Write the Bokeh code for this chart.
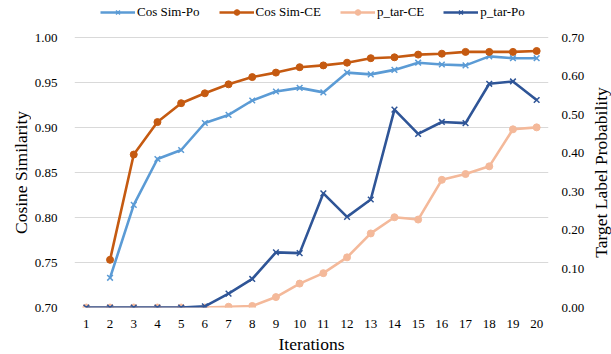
import math
from bokeh.plotting import figure
from bokeh.layouts import row
from bokeh.models import (Range1d, LinearAxis, FixedTicker, NumeralTickFormatter,
                          Legend, LegendItem, ColumnDataSource, Label)
from bokeh.embed import file_html
from bokeh.resources import INLINE

nan = float("nan")
iterations = list(range(1, 21))
cos_sim_po = [nan, 0.733, 0.814, 0.865, 0.875, 0.905, 0.914, 0.930, 0.940, 0.944,
              0.939, 0.961, 0.959, 0.964, 0.972, 0.970, 0.969, 0.979, 0.977, 0.977]
cos_sim_ce = [nan, 0.753, 0.870, 0.906, 0.927, 0.938, 0.948, 0.956, 0.961, 0.967,
              0.969, 0.972, 0.977, 0.978, 0.981, 0.982, 0.984, 0.984, 0.984, 0.985]
p_tar_ce = [0.0, 0.0, 0.0, 0.0, 0.0, 0.0, 0.002, 0.004, 0.027, 0.062,
            0.089, 0.130, 0.192, 0.234, 0.228, 0.331, 0.346, 0.366, 0.462, 0.467]
p_tar_po = [0.0, 0.0, 0.0, 0.0, 0.0, 0.003, 0.036, 0.074, 0.143, 0.141,
            0.296, 0.235, 0.280, 0.513, 0.450, 0.481, 0.478, 0.580, 0.586, 0.538]
left_ticks = [0.70, 0.75, 0.80, 0.85, 0.90, 0.95, 1.00]
right_ticks = [0.0, 0.1, 0.2, 0.3, 0.4, 0.5, 0.6, 0.7]
left_title = "Cosine Similarity"
right_title = "Target Label Probability"
x_title = "Iterations"

FONT = "Liberation Serif"
TXT = "#000000"

# main frame reaches up to the top edge so the legend can sit above the 1.00 gridline
FRAME_H = 307
GRID_TOP = 37
GRID_H = FRAME_H - GRID_TOP
BOTTOM = 47
left_top = 1.00 + GRID_TOP * (0.30 / GRID_H)
right_top = 0.70 + GRID_TOP * (0.70 / GRID_H)

p = figure(frame_width=474, frame_height=FRAME_H, output_backend="svg", toolbar_location=None,
           x_range=Range1d(0.5, 20.5), y_range=Range1d(0.70, left_top),
           min_border_left=41, min_border_right=40, min_border_top=0, min_border_bottom=BOTTOM)
p.extra_y_ranges = {"prob": Range1d(0.0, right_top)}
p.outline_line_color = None

src = ColumnDataSource(dict(x=iterations, cpo=cos_sim_po, cce=cos_sim_ce, pce=p_tar_ce, ppo=p_tar_po))

c1 = "#5B9BD5"
c2 = "#C55A11"
c3 = "#F4B99A"
c4 = "#2F5597"

l1 = p.line("x", "cpo", source=src, line_color=c1, line_width=2.6)
s1 = p.scatter("x", "cpo", source=src, marker="x", size=8, line_color=c1, line_width=1.5)
l2 = p.line("x", "cce", source=src, line_color=c2, line_width=2.6)
s2 = p.scatter("x", "cce", source=src, marker="circle", size=7, fill_color=c2, line_color=c2)
l3 = p.line("x", "pce", source=src, line_color=c3, line_width=2.6, y_range_name="prob")
s3 = p.scatter("x", "pce", source=src, marker="circle", size=7, fill_color=c3, line_color=c3, y_range_name="prob")
l4 = p.line("x", "ppo", source=src, line_color=c4, line_width=2.6, y_range_name="prob")
s4 = p.scatter("x", "ppo", source=src, marker="x", size=8, line_color=c4, line_width=1.5, y_range_name="prob")

p.xaxis.ticker = FixedTicker(ticks=iterations)
p.xaxis.axis_label = x_title
p.yaxis.ticker = FixedTicker(ticks=left_ticks)
p.yaxis.formatter = NumeralTickFormatter(format="0.00")

ra = LinearAxis(y_range_name="prob", ticker=FixedTicker(ticks=right_ticks),
                formatter=NumeralTickFormatter(format="0.00"))
p.add_layout(ra, "right")

for ax in [p.xaxis[0], p.yaxis[0], ra]:
    ax.axis_line_color = None
    ax.major_tick_line_color = None
    ax.minor_tick_line_color = None
    ax.major_label_text_font = FONT
    ax.major_label_text_font_size = "13px"
    ax.major_label_text_color = TXT
    ax.axis_label_text_font = FONT
    ax.axis_label_text_font_size = "17.5px"
    ax.axis_label_text_font_style = "normal"
    ax.axis_label_text_color = TXT

p.xaxis.major_label_standoff = 6
p.xaxis.axis_label_standoff = 3
p.yaxis[0].major_label_standoff = 11
ra.major_label_standoff = 7

p.xgrid.grid_line_color = None
p.ygrid.grid_line_color = "#D9D9D9"
p.ygrid.grid_line_width = 1.2

legend = Legend(items=[
    LegendItem(label="Cos Sim-Po", renderers=[l1, s1]),
    LegendItem(label="Cos Sim-CE", renderers=[l2, s2]),
    LegendItem(label="p_tar-CE", renderers=[l3, s3]),
    LegendItem(label="p_tar-Po", renderers=[l4, s4]),
], orientation="horizontal", location=(26, FRAME_H - 20))
legend.padding = 0
legend.margin = 0
legend.spacing = 19
legend.glyph_width = 35
legend.glyph_height = 14
legend.label_height = 14
legend.label_standoff = 2
legend.label_text_font = FONT
legend.label_text_font_size = "13px"
legend.label_text_color = TXT
legend.border_line_color = None
legend.background_fill_alpha = 0
p.add_layout(legend, "center")


def title_strip(text, strip_w, center_x):
    """Narrow figure holding a vertical axis title (reading bottom to top),
    centred on the span of the gridlines."""
    f = figure(frame_width=strip_w, frame_height=FRAME_H, output_backend="svg", toolbar_location=None,
               x_range=Range1d(0, strip_w), y_range=Range1d(0, FRAME_H),
               min_border_left=0, min_border_right=0, min_border_top=0, min_border_bottom=BOTTOM)
    f.outline_line_color = None
    f.grid.visible = False
    f.axis.visible = False
    f.add_layout(Label(x=center_x, y=GRID_H / 2, text=text, angle=math.pi / 2,
                       text_align="center", text_baseline="middle",
                       text_font=FONT, text_font_size="17.5px", text_color=TXT))
    return f


p_left = title_strip(left_title, 31, 20.5)
p_right = title_strip(right_title, 25, 12)

layout = row(p_left, p, p_right, spacing=0)
open("out.html", "w").write(file_html(layout, INLINE))
